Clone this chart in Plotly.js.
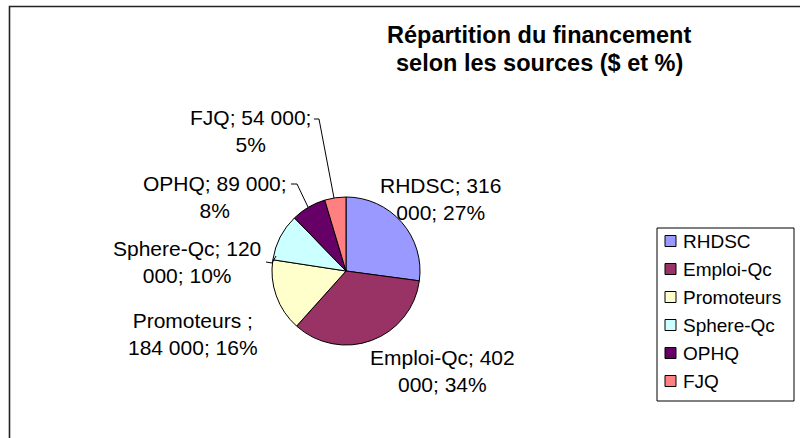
<!DOCTYPE html>
<html>
<head>
<meta charset="utf-8">
<script src="https://cdn.plot.ly/plotly-3.0.1.min.js"></script>
<style>html,body{margin:0;padding:0;background:#fff;}#chart{width:800px;height:438px;}</style>
</head>
<body>
<div id="chart"></div>
<script>
// ---- data ----
const labels = ['RHDSC', 'Emploi-Qc', 'Promoteurs', 'Sphere-Qc', 'OPHQ', 'FJQ'];
const values = [316000, 402000, 184000, 120000, 89000, 54000];
const colors = ['#9999FF', '#993366', '#FFFFCC', '#CCFFFF', '#660066', '#FF8080'];
const sliceLabels = [
  'RHDSC; 316<br>000; 27%',
  'Emploi-Qc; 402<br>000; 34%',
  'Promoteurs ;<br>184 000; 16%',
  'Sphere-Qc; 120<br>000; 10%',
  'OPHQ; 89 000;<br>8%',
  'FJQ; 54 000;<br>5%'
];
const titleLines = ['Répartition du financement', 'selon les sources ($ et %)'];

// ---- layout helpers (pixel -> paper) ----
const W = 800, H = 438;
const px = x => x / W;
const py = y => 1 - y / H;
const FONT = 'Liberation Sans, Arial, sans-serif';

const cx = 346, cy = 271, r = 74;
const labelPos = [[440, 199], [442, 371], [193, 334], [187, 262], [215, 197], [250, 131]];
const leaders = [null, null, null,
  [[266, 262], [272, 263], [276, 256]],
  [[291, 184], [297, 184], [308, 207]],
  [[314, 119], [319, 119], [334, 198]]
];

const trace = {
  type: 'pie',
  labels: labels,
  values: values,
  sort: false,
  direction: 'clockwise',
  rotation: 0,
  textinfo: 'none',
  hoverinfo: 'none',
  showlegend: false,
  marker: {colors: colors, line: {color: '#000', width: 1}},
  domain: {x: [px(cx - r), px(cx + r)], y: [py(cy + r), py(cy - r)]}
};

const annotations = [];
const shapes = [];

// outer frame (left and top edges visible)
shapes.push({type: 'path', xref: 'paper', yref: 'paper',
  path: `M ${px(9.5)} ${py(440)} L ${px(9.5)} ${py(6.5)} L ${px(802)} ${py(6.5)}`,
  line: {color: '#222', width: 1.6}});

titleLines.forEach((t, i) => {
  annotations.push({xref: 'paper', yref: 'paper', x: px(539), y: py(35 + i * 28), xanchor: 'center', yanchor: 'middle',
    text: '<b>' + t + '</b>', showarrow: false, align: 'center', font: {family: FONT, size: 23.5, color: '#000'}});
});

labels.forEach((lab, i) => {
  annotations.push({xref: 'paper', yref: 'paper', x: px(labelPos[i][0]), y: py(labelPos[i][1]),
    xanchor: 'center', yanchor: 'middle', text: sliceLabels[i], showarrow: false, align: 'center',
    font: {family: FONT, size: 21, color: '#000'}});
  if (leaders[i]) {
    const p = leaders[i].map((pt, k) => (k ? 'L ' : 'M ') + px(pt[0]) + ' ' + py(pt[1])).join(' ');
    shapes.push({type: 'path', xref: 'paper', yref: 'paper', path: p, line: {color: '#000', width: 1}});
  }
});

// legend box
const lgX0 = 657, lgX1 = 794, lgY0 = 228, lgY1 = 401;
shapes.push({type: 'rect', xref: 'paper', yref: 'paper', x0: px(lgX0), x1: px(lgX1), y0: py(lgY1), y1: py(lgY0),
  line: {color: '#000', width: 1}, fillcolor: '#fff', layer: 'below'});
const itemY0 = 241, itemStep = 28;
labels.forEach((lab, i) => {
  const y = itemY0 + i * itemStep;
  shapes.push({type: 'rect', xref: 'paper', yref: 'paper', x0: px(665), x1: px(676), y0: py(y + 5.5), y1: py(y - 5.5),
    line: {color: '#000', width: 1}, fillcolor: colors[i]});
  annotations.push({xref: 'paper', yref: 'paper', x: px(681), y: py(y), xanchor: 'left', yanchor: 'middle',
    text: lab, showarrow: false, font: {family: FONT, size: 19, color: '#000'}});
});

const layout = {
  width: W, height: H,
  margin: {l: 0, r: 0, t: 0, b: 0},
  paper_bgcolor: '#fff',
  showlegend: false,
  annotations: annotations,
  shapes: shapes
};

Plotly.newPlot('chart', [trace], layout, {displayModeBar: false, staticPlot: true});
</script>
</body>
</html>
